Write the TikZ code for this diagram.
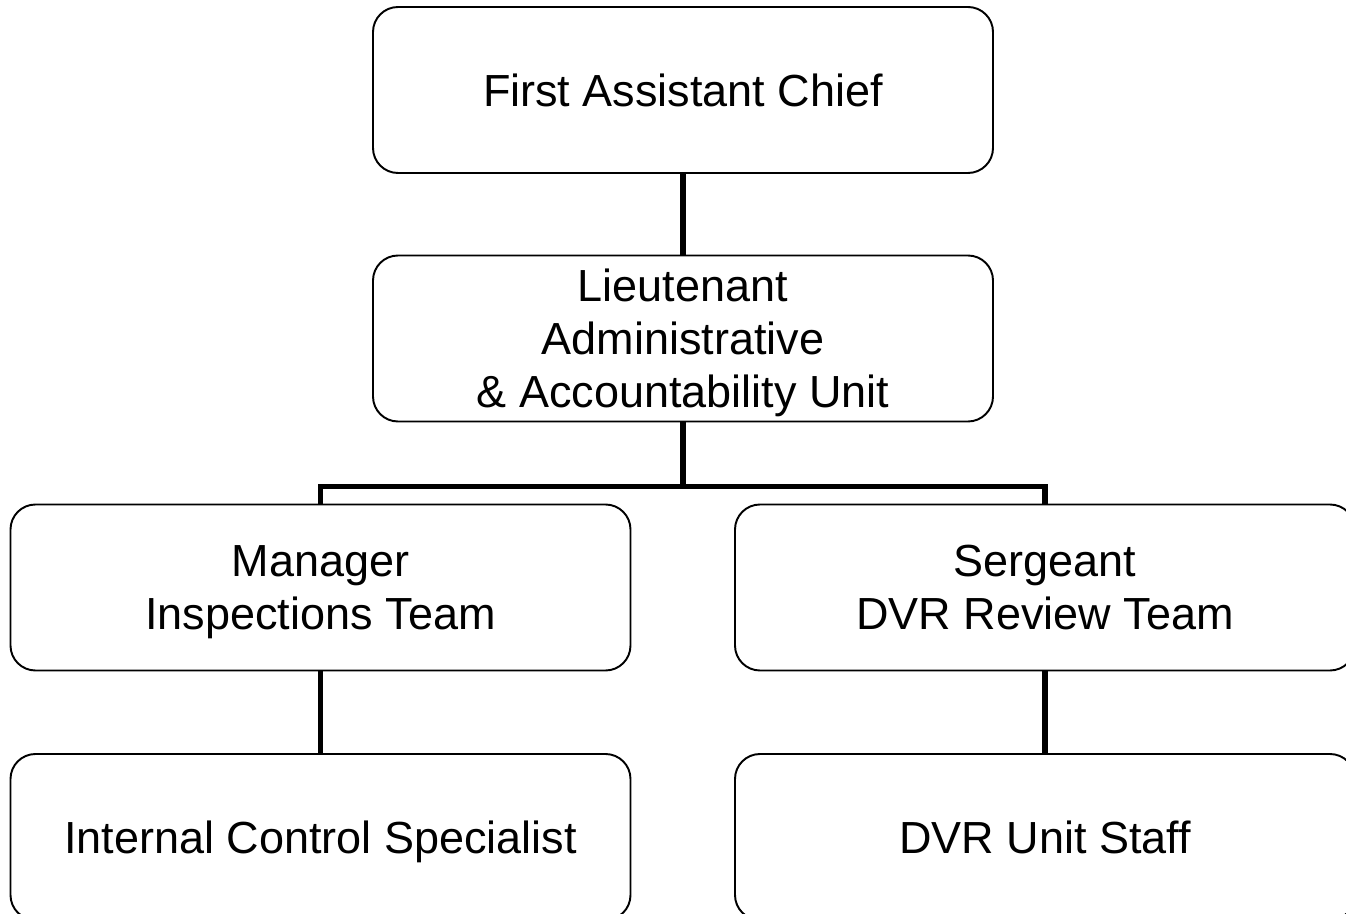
\documentclass[tikz,border=0pt]{standalone}
\usepackage{fontspec}
\setmainfont{Liberation Sans}
\usetikzlibrary{positioning}

\begin{document}
\begin{tikzpicture}[
    box/.style={
        rounded corners=0.5cm,
        draw=black,
        line width=1.1pt,
        fill=white,
        align=center,
        text depth=0pt,
        minimum width=12.4cm,
        minimum height=3.32cm,
        font=\fontsize{25.6}{30.2}\selectfont
    },
    link/.style={line width=3.1pt}
]
    \clip (0,0) rectangle (26.92,-18.28);
    \node[box] (chief) at (13.66,-1.80) {First Assistant Chief};
    \node[box] (lt) at (13.66,-6.77) {Lieutenant\\Administrative\\\& Accountability Unit};
    \node[box] (mgr) at (6.41,-11.75) {Manager\\Inspections Team};
    \node[box] (sgt) at (20.90,-11.75) {Sergeant\\DVR Review Team};
    \node[box] (ics) at (6.41,-16.74) {Internal Control Specialist};
    \node[box] (staff) at (20.90,-16.74) {DVR Unit Staff};
    % connectors
    \draw[link] (chief.south) -- (lt.north);
    \draw[link] (lt.south) -- ++(0,-1.28) coordinate (split);
    \draw[link] (mgr.north) |- (split) -| (sgt.north);
    \draw[link] (mgr.south) -- (ics.north);
    \draw[link] (sgt.south) -- (staff.north);
\end{tikzpicture}
\end{document}
